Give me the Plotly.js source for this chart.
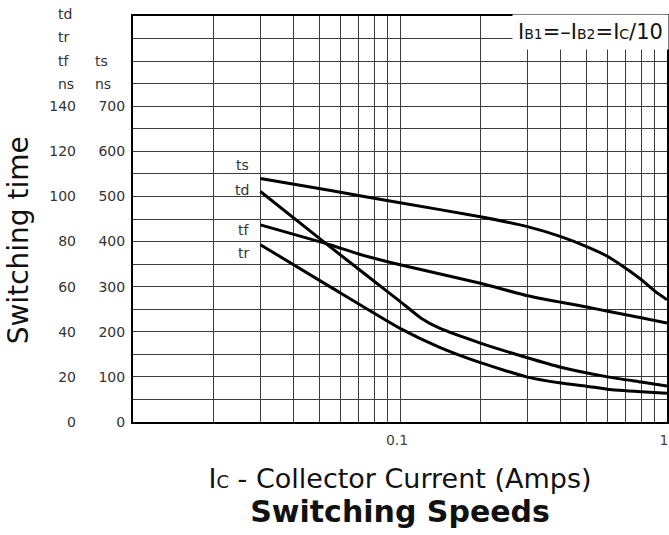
<!DOCTYPE html>
<html>
<head>
<meta charset="utf-8">
<script src="https://cdn.plot.ly/plotly-3.0.1.min.js"></script>
<style>
  html, body { margin: 0; padding: 0; background: #fff; }
  #chart { width: 669px; height: 535px; }
</style>
</head>
<body>
<div id="chart"></div>
<script>
// ---- data (Ic in A, times in ns) ----
const tsIc = [0.03, 0.055, 0.1, 0.2, 0.3, 0.4, 0.5, 0.6, 0.7, 0.8, 0.9, 1.0];
const tsNs = [540, 513, 486, 455, 433, 411, 389, 367, 341, 316, 290, 271];

const tdIc = [0.03, 0.051, 0.08, 0.1, 0.12, 0.14, 0.2, 0.3, 0.4, 0.6, 0.8, 1.0];
const tdNs = [102.2, 80.5, 62.4, 53.5, 46.0, 41.7, 35.0, 28.5, 24.3, 20.0, 17.7, 15.9];

const tfIc = [0.03, 0.055, 0.07, 0.1, 0.2, 0.3, 0.4, 0.5, 0.6, 0.8, 1.0];
const tfNs = [87.4, 78.5, 74.5, 69.7, 61.5, 56.0, 53.1, 51.0, 49.1, 46.2, 43.9];

const trIc = [0.03, 0.055, 0.1, 0.14, 0.2, 0.3, 0.4, 0.5, 0.6, 0.8, 1.0];
const trNs = [78.6, 59.8, 41.5, 33.2, 26.3, 19.9, 17.3, 15.9, 14.5, 13.4, 12.7];

const seriesNames = ["ts", "td", "tf", "tr"];

// ---- axis ticks ----
const xTickVals = [0.02, 0.03, 0.04, 0.05, 0.06, 0.07, 0.08, 0.09, 0.1,
                   0.2, 0.3, 0.4, 0.5, 0.6, 0.7, 0.8, 0.9, 1];
const xTickText = ["", "", "", "", "", "", "", "", "0.1",
                   "", "", "", "", "", "", "", "", "1"];

const tsTickVals = [0, 50, 100, 150, 200, 250, 300, 350, 400, 450, 500, 550, 600, 650, 700, 750, 800, 850];
const tsTickText = ["0", "", "100", "", "200", "", "300", "", "400", "", "500", "", "600", "", "700", "", "", ""];

const tdrfTickVals = [0, 20, 40, 60, 80, 100, 120, 140];
const tdrfTickText = ["0", "20", "40", "60", "80", "100", "120", "140"];

const leftHeader = ["td", "tr", "tf", "ns"];
const rightHeader = ["ts", "ns"];

const condition = "I<span style='font-size:14px'>B1</span>=–I<span style='font-size:14px'>B2</span>=I<span style='font-size:14px'>C</span>/10";
const xTitle = "I<span style='font-size:18px'>C</span> - Collector Current (Amps)";
const yTitle = "Switching time";
const chartTitle = "Switching Speeds";

// ---- traces ----
const lineStyle = {color: "#000", width: 3, shape: "spline", smoothing: 0.5};
const traces = [
  {x: tsIc, y: tsNs, yaxis: "y", name: seriesNames[0]},
  {x: tdIc, y: tdNs, yaxis: "y2", name: seriesNames[1]},
  {x: tfIc, y: tfNs, yaxis: "y2", name: seriesNames[2]},
  {x: trIc, y: trNs, yaxis: "y2", name: seriesNames[3]}
].map(t => Object.assign(t, {type: "scatter", mode: "lines", line: lineStyle, hoverinfo: "skip"}));

const FONT = "DejaVu Sans, sans-serif";
const tickFont = {family: FONT, size: 14, color: "#333"};

// ---- annotations ----
const annotations = [];
leftHeader.forEach((t, i) => annotations.push({
  text: t, xref: "paper", yref: "y", x: -0.144, y: 900 - 50 * i,
  xanchor: "left", yanchor: "middle", showarrow: false, font: tickFont, yshift: i < 2 ? 2 : 0
}));
rightHeader.forEach((t, i) => annotations.push({
  text: t, xref: "paper", yref: "y", x: -0.075, y: 800 - 50 * i,
  xanchor: "left", yanchor: "middle", showarrow: false, font: tickFont
}));
// curve labels at the first point of each curve
const labelShift = [13, 1, -5, -8];
[[tsIc, tsNs, "y"], [tdIc, tdNs, "y2"], [tfIc, tfNs, "y2"], [trIc, trNs, "y2"]].forEach((s, i) => {
  annotations.push({
    text: seriesNames[i], xref: "x", yref: s[2], x: Math.log10(s[0][0]), y: s[1][0],
    xanchor: "right", yanchor: "middle", showarrow: false, xshift: -9, yshift: labelShift[i],
    font: {family: FONT, size: 14, color: "#333"}
  });
});
// y-axis title (placed as rotated text, centred like the reference)
annotations.push({
  text: yTitle, xref: "paper", yref: "paper", x: -0.215, y: 0.448,
  xanchor: "center", yanchor: "middle", textangle: -90, showarrow: false,
  font: {family: FONT, size: 28, color: "#111"}
});
annotations.push({
  text: condition, xref: "paper", yref: "paper", x: 1, y: 1, xanchor: "right", yanchor: "top",
  xshift: 2, yshift: 2, showarrow: false, bgcolor: "#fff", borderpad: 5,
  font: {family: FONT, size: 21, color: "#111"}
});

const layout = {
  width: 669, height: 535,
  margin: {l: 133, r: 2, t: 16, b: 113},
  paper_bgcolor: "#fff", plot_bgcolor: "#fff",
  showlegend: false,
  title: {
    text: chartTitle, x: 0.598, xanchor: "center", y: 0.043, yanchor: "middle",
    font: {family: FONT, size: 30, weight: 700, color: "#111"}
  },
  xaxis: {
    type: "log", range: [-2, 0],
    tickmode: "array", tickvals: xTickVals, ticktext: xTickText,
    showgrid: true, gridcolor: "#3c3c3c", gridwidth: 1,
    showline: true, linecolor: "#000", linewidth: 2, mirror: true,
    ticks: "", tickfont: {family: FONT, size: 14, color: "#444"},
    ticklabeloverflow: "allow", ticklabelstandoff: 4, ticklabelshift: -3,
    zeroline: false, fixedrange: true,
    title: {text: xTitle, font: {family: FONT, size: 27, color: "#111"}, standoff: 22}
  },
  yaxis: {
    range: [0, 900],
    tickmode: "array", tickvals: tsTickVals, ticktext: tsTickText,
    showgrid: true, gridcolor: "#3c3c3c", gridwidth: 1,
    showline: true, linecolor: "#000", linewidth: 2, mirror: true,
    ticks: "", tickfont: tickFont, ticklabelstandoff: 3,
    zeroline: false, fixedrange: true
  },
  yaxis2: {
    range: [0, 180], overlaying: "y", side: "left", anchor: "x",
    tickmode: "array", tickvals: tdrfTickVals, ticktext: tdrfTickText,
    showgrid: false, showline: false, zeroline: false,
    ticks: "", tickfont: tickFont, ticklabelstandoff: 56, fixedrange: true
  },
  annotations: annotations
};

Plotly.newPlot("chart", traces, layout, {displayModeBar: false, staticPlot: true});
</script>
</body>
</html>
